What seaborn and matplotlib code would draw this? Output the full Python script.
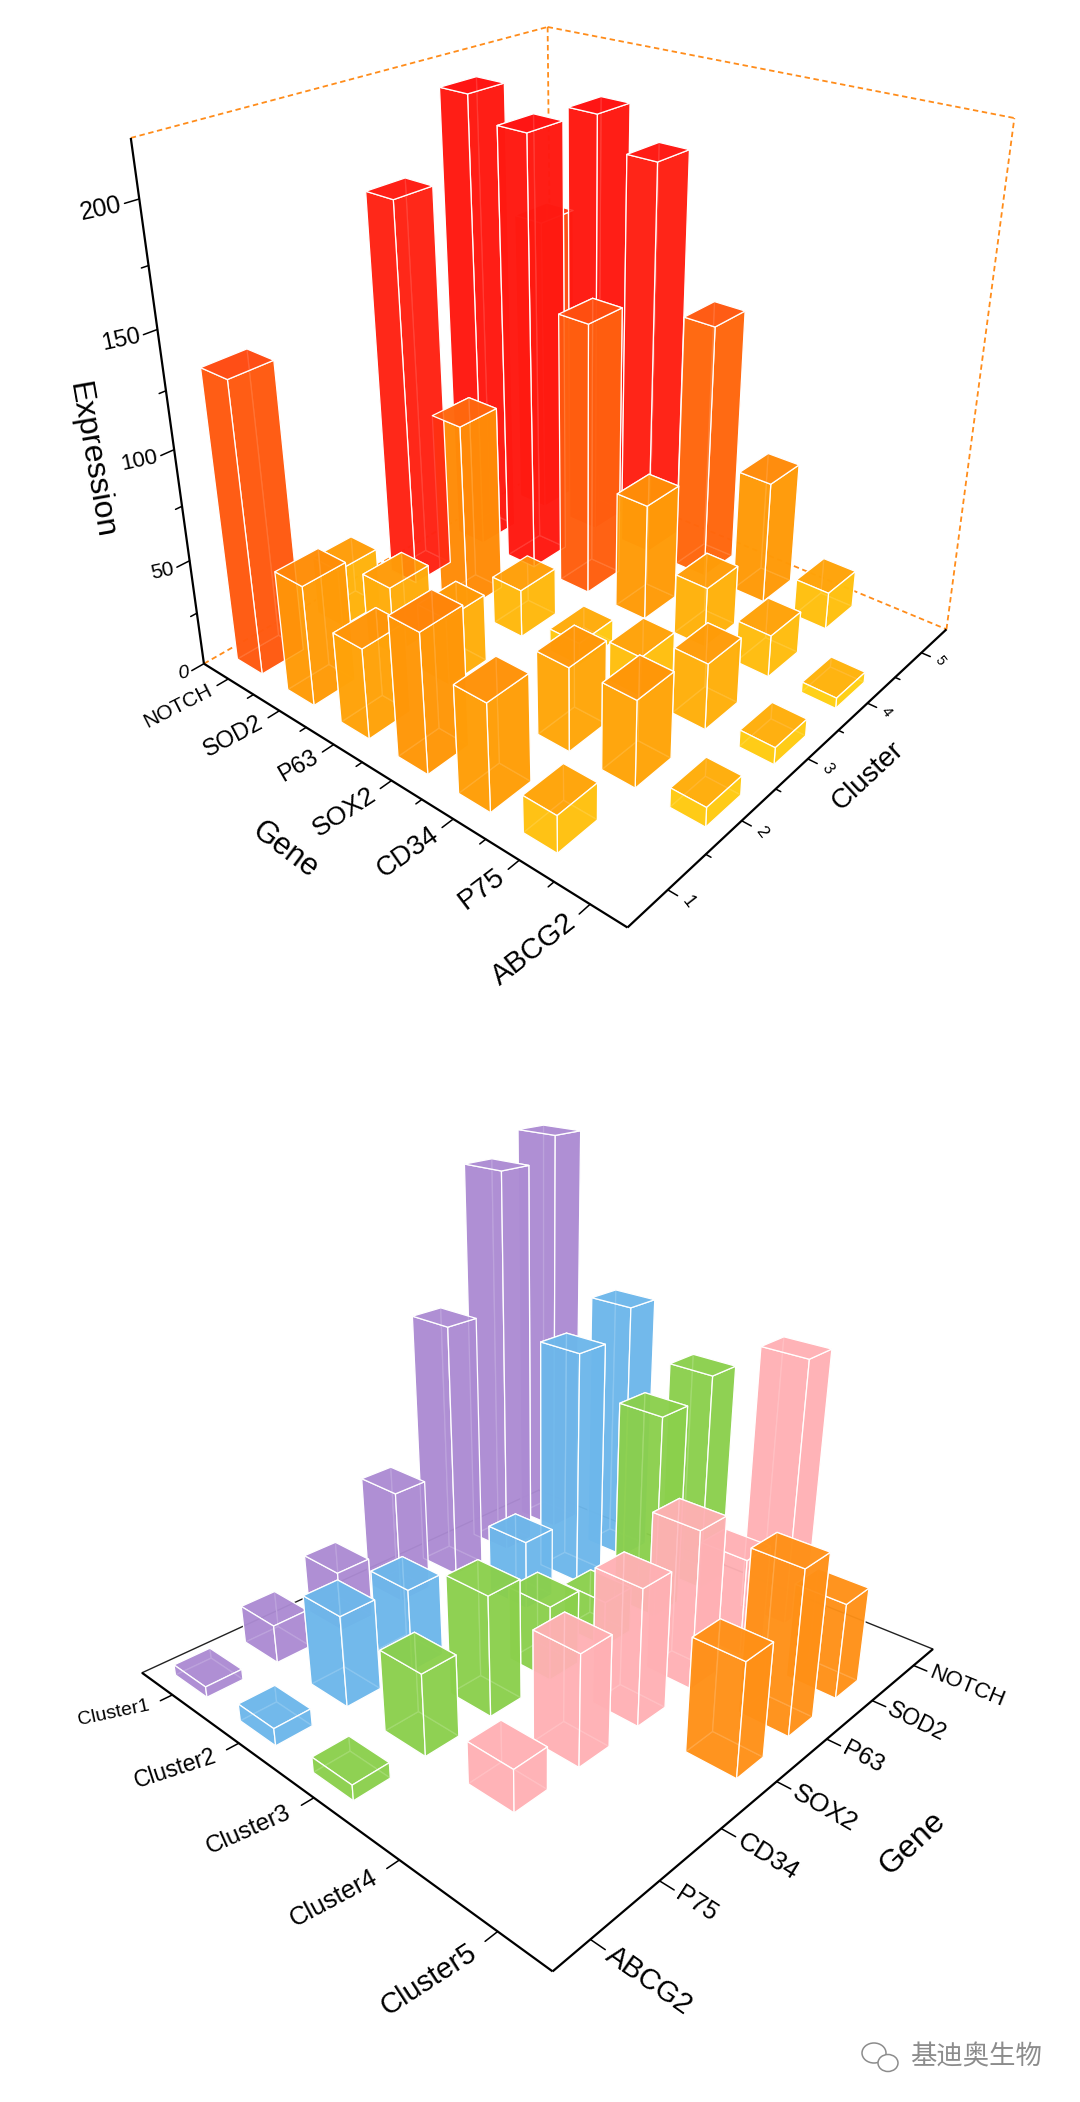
import numpy as np
import seaborn as sns
import matplotlib.pyplot as plt
from matplotlib.patches import Ellipse
from mpl_toolkits.mplot3d import proj3d

nan = np.nan
genes = ['NOTCH', 'SOD2', 'P63', 'SOX2', 'CD34', 'P75', 'ABCG2']
cluster_nums = ['1', '2', '3', '4', '5']
cluster_names = ['Cluster1', 'Cluster2', 'Cluster3', 'Cluster4', 'Cluster5']
z_ticks = [0, 50, 100, 150, 200]

# top chart, one list per cluster axis position, genes in the order above
a_cluster1 = [133, 56, 42, 64, 49, 17, nan]
a_cluster2 = [28, 33, 32, nan, 39, 40, 9]
a_cluster3 = [179, 89, 23, 11, 19, 31, 8]
a_cluster4 = [212, 202, 129, 56, 29, 20, 5]
a_cluster5 = [145, 200, 186, 122, 59, 18, nan]

# bottom chart
b_cluster1 = [198, 187, 124, 55, 29, 18, 5]
b_cluster2 = [127, 114, 34, nan, 39, 42, 8]
b_cluster3 = [106, 97, 22, 35, 55, 37, 7]
b_cluster4 = [125, 46, 73, 62, 50, 19, nan]
b_cluster5 = [nan, 44, 74, 51, nan, nan, nan]

cluster_colors = ['#AC8BD3', '#6DB7EB', '#8BD04C', '#FFB0B4', '#FF9016']

sns.set_theme(style='white')
plt.rcParams['font.family'] = ['Liberation Sans', 'DejaVu Sans']

W, H = 1080, 2102
fig = plt.figure(figsize=(W / 100, H / 100), dpi=100, facecolor='white')


def add_axes3d(left, bottom, size):
    return fig.add_axes([left / W, bottom / H, size / W, size / H],
                        projection='3d', computed_zorder=False)


def draw_bars(ax, xs, ys, zs, width, colors, alpha):
    bars = ax.bar3d(np.array(xs) - width / 2, np.array(ys) - width / 2, np.zeros(len(xs)),
                    width, width, zs, color=colors, edgecolor='white', linewidth=0.9,
                    alpha=alpha, shade=False, zorder=3)
    bars.set_clip_on(False)


def line(ax, p, q, **kw):
    ax.plot([p[0], q[0]], [p[1], q[1]], [p[2], q[2]], clip_on=False, **kw)


def label(ax, x, y, z, s, **kw):
    # Text3D ignores rotation, so project the anchor and use a 2D text
    px, py, _ = proj3d.proj_transform(x, y, z, ax.get_proj())
    kw.setdefault('rotation_mode', 'anchor')
    kw.setdefault('va', 'center')
    kw.setdefault('color', 'black')
    ax.text2D(px, py, s, transform=ax.transData, clip_on=False, **kw)


# ---------- top chart ----------
ax = add_axes3d(86, 1197, 965)
ax.set_proj_type('persp', focal_length=0.29)
ax.view_init(elev=27, azim=-50)
ax.set_box_aspect((1.08, 1.06, 1.08))
ax.set_xlim(0.5, 7.5)
ax.set_ylim(0.5, 5.5)
ax.set_zlim(0, 222)
ax.set_axis_off()
ax.patch.set_alpha(0)

heat = sns.blend_palette(['#FFD414', '#FFA008', '#FF8C08', '#FF5A10', '#FF2414', '#FF0F0F'], as_cmap=True)
xs, ys, zs, colors = [], [], [], []
for c, row in enumerate([a_cluster1, a_cluster2, a_cluster3, a_cluster4, a_cluster5]):
    for g, v in enumerate(row):
        if np.isnan(v):
            continue
        xs.append(g + 1)
        ys.append(c + 1)
        zs.append(v)
        frac = min(v / 200, 1.0)
        # faces: bottom, top, then the four sides
        colors += [heat(frac * 0.9), heat(frac + 0.12 if frac < 0.5 else frac)] + [heat(frac * 0.9)] * 4
draw_bars(ax, xs, ys, zs, 0.5, colors, 0.85)

black = dict(color='black', lw=1.6, zorder=5, solid_capstyle='butt')
thin = dict(color='black', lw=1.1, zorder=5)
dash = dict(color='#FF8C1A', lw=1.3, ls=(0, (3, 2)), zorder=1)
x0, x1, y0, y1, z1 = 0.5, 7.5, 0.5, 5.5, 222
line(ax, (x0, y0, 0), (x1, y0, 0), **black)
line(ax, (x1, y0, 0), (x1, y1, 0), **black)
line(ax, (x0, y0, 0), (x0, y0, z1), **black)
line(ax, (x0, y0, 0), (x0, y1, 0), **dash)
line(ax, (x0, y1, 0), (x1, y1, 0), **dash)
line(ax, (x0, y1, 0), (x0, y1, z1), **dash)
line(ax, (x1, y1, 0), (x1, y1, z1), **dash)
line(ax, (x0, y0, z1), (x0, y1, z1), **dash)
line(ax, (x0, y1, z1), (x1, y1, z1), **dash)

sizes = [15, 17, 17, 19, 19.5, 20.5, 21]
angles = [27, 28, 30, 33, 35, 37, 38]
for i, name in enumerate(genes):
    line(ax, (i + 1, y0, 0), (i + 1, y0 - 0.13, 0), **thin)
    if i < 6:
        line(ax, (i + 1.5, y0, 0), (i + 1.5, y0 - 0.07, 0), **thin)
    label(ax, i + 1, y0 - 0.2, 0, name, ha='right', rotation=angles[i], fontsize=sizes[i])
for i, name in enumerate(cluster_nums):
    line(ax, (x1, i + 1, 0), (x1 + 0.13, i + 1, 0), **thin)
    if i < 4:
        line(ax, (x1, i + 1.5, 0), (x1 + 0.07, i + 1.5, 0), **thin)
    label(ax, x1 + 0.27, i + 1, 0, name, ha='center', rotation=-52,
          fontsize=[13, 12.5, 11.5, 11, 10][i])
for v in np.arange(0, 225, 25):
    major = v % 50 == 0
    line(ax, (x0, y0, v), (x0, y0 - (0.14 if major else 0.07), v), **thin)
for v, s in zip(z_ticks, [14, 15, 16, 17, 18]):
    label(ax, x0, y0 - 0.17, v, str(v), ha='right', rotation=12, fontsize=s,
          style='italic' if v == 0 else 'normal')
label(ax, 3.93, y0 - 1.115, 0, 'Gene', ha='center', rotation=-37, fontsize=22)
label(ax, x1 + 0.7, 3.14, 0, 'Cluster', ha='center', rotation=43, fontsize=20)
label(ax, x0, y0 - 0.8, 110, 'Expression', ha='center', rotation=-80, fontsize=23)

# ---------- bottom chart ----------
ax = add_axes3d(62, 152, 938)
ax.set_proj_type('persp', focal_length=0.244)
ax.view_init(elev=24.5, azim=-47)
ax.set_box_aspect((1.165, 1.21, 0.897))
ax.set_xlim(0.5, 5.5)
ax.set_ylim(0.5, 7.5)
ax.set_zlim(0, 180)
ax.set_axis_off()
ax.patch.set_alpha(0)

xs, ys, zs, colors = [], [], [], []
for c, row in enumerate([b_cluster1, b_cluster2, b_cluster3, b_cluster4, b_cluster5]):
    for g, v in enumerate(row):
        if np.isnan(v):
            continue
        xs.append(c + 1)
        ys.append(7 - g)
        zs.append(v)
        colors.append(cluster_colors[c])
draw_bars(ax, xs, ys, zs, 0.5, colors, 0.8)

x0, x1, y0, y1 = 0.5, 5.5, 0.5, 7.5
back = dict(color='#222222', lw=1.0, zorder=1)
line(ax, (x0, y0, 0), (x1, y0, 0), **black)
line(ax, (x1, y0, 0), (x1, y1, 0), **black)
line(ax, (x0, y0, 0), (x0, y1, 0), **back)
line(ax, (x0, y1, 0), (x1, y1, 0), **back)

sizes = [14, 16.5, 17.5, 18.5, 21]
angles = [12, 18, 24, 28, 33]
for i, name in enumerate(cluster_names):
    line(ax, (i + 1, y0, 0), (i + 1, y0 - 0.16, 0), **thin)
    label(ax, i + 1, y0 - 0.3, 0, name, ha='right', rotation=angles[i], fontsize=sizes[i])
sizes = [21, 18, 19, 19, 17.5, 16.5, 16]
angles = [-35, -33, -32, -30, -28, -26, -22]
for i, name in enumerate(genes[::-1]):
    line(ax, (x1, i + 1, 0), (x1 + 0.13, i + 1, 0), **thin)
    label(ax, x1 + 0.16, i + 1, 0, name, ha='left', rotation=angles[i], fontsize=sizes[i])
label(ax, x1 + 1.12, 4.11, 0, 'Gene', ha='center', rotation=43, fontsize=23)

# watermark
fig.text(910 / W, 1 - 2057 / H, '基迪奥生物', family=['Noto Sans CJK SC', 'DejaVu Sans'],
         fontsize=19, color='#8c8c8c', ha='left', va='center')
for cx, cy, w, h in [(874, 2053, 24, 20), (888, 2063, 20, 17)]:
    fig.add_artist(Ellipse((cx / W, 1 - cy / H), w / W, h / H, transform=fig.transFigure,
                           facecolor='white', edgecolor='#8c8c8c', lw=1.1))

fig.savefig('out.png', dpi=100)
